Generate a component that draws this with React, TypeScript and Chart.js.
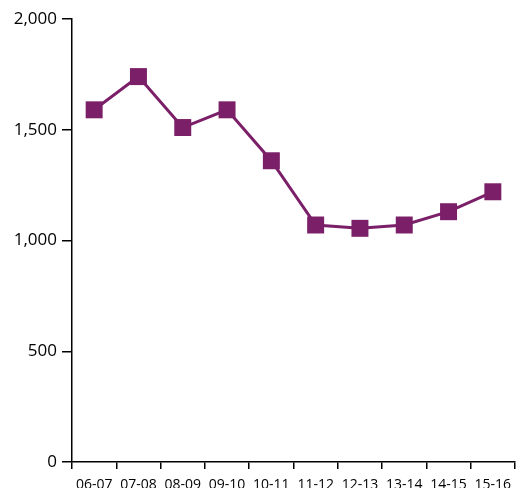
import React, { useEffect, useRef } from "react";
import { Chart, registerables } from "chart.js";

Chart.register(...registerables);

const categories = ["06-07", "07-08", "08-09", "09-10", "10-11", "11-12", "12-13", "13-14", "14-15", "15-16"];
const values = [1590, 1740, 1510, 1590, 1360, 1070, 1055, 1070, 1130, 1220];
const yTicks = [0, 500, 1000, 1500, 2000];

const PURPLE = "#7b1f68";

export default function App() {
  const ref = useRef<HTMLCanvasElement | null>(null);

  useEffect(() => {
    document.body.style.margin = "0";
    const canvas = ref.current;
    if (!canvas) return;
    const chart = new Chart(canvas, {
      type: "line",
      data: {
        labels: categories,
        datasets: [
          {
            data: values,
            borderColor: PURPLE,
            backgroundColor: PURPLE,
            borderWidth: 3,
            pointStyle: "rect",
            pointRadius: 12,
            pointBorderWidth: 0,
            pointBackgroundColor: PURPLE,
            tension: 0,
          },
        ],
      },
      options: {
        responsive: false,
        animation: false,
        events: [],
        layout: { autoPadding: false, padding: { top: 19, right: 1, left: 0, bottom: 0 } },
        plugins: { legend: { display: false }, tooltip: { enabled: false } },
        scales: {
          x: {
            type: "category",
            offset: true,
            afterFit: (s: any) => {
              s.height = 26;
              s.paddingLeft = 0;
              s.paddingRight = 0;
            },
            grid: {
              offset: true,
              drawOnChartArea: false,
              drawTicks: true,
              tickLength: 7,
              color: "#000",
              lineWidth: 1.5,
            },
            border: { display: true, color: "#000", width: 1.5 },
            ticks: {
              color: "#000",
              padding: 8,
              maxRotation: 0,
              autoSkip: false,
              font: { family: "'Open Sans'", size: 14 },
            },
          },
          y: {
            min: 0,
            max: 2000,
            afterFit: (s: any) => {
              s.width = 72;
              s.paddingTop = 0;
              s.paddingBottom = 0;
            },
            afterBuildTicks: (s: any) => {
              s.ticks = yTicks.map((v) => ({ value: v }));
            },
            grid: {
              drawOnChartArea: false,
              drawTicks: true,
              tickLength: 10,
              color: "#000",
              lineWidth: 1.5,
            },
            border: { display: true, color: "#000", width: 1.5 },
            ticks: {
              color: "#000",
              padding: 5,
              font: { family: "'Open Sans'", size: 17 },
              callback: (v: any) => Number(v).toLocaleString("en-US"),
            },
          },
        },
      },
    });
    return () => chart.destroy();
  }, []);

  return (
    <div style={{ width: 516, height: 488 }}>
      <canvas ref={ref} width={516} height={488} style={{ display: "block" }} />
    </div>
  );
}
